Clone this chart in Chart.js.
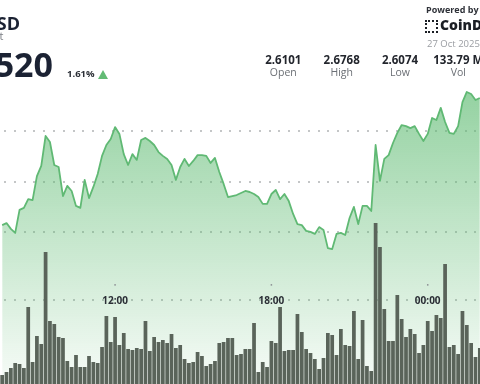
<!DOCTYPE html>
<html>
<head>
<meta charset="utf-8">
<script src="https://cdn.jsdelivr.net/npm/chart.js@4"></script>
<style>
  html, body { margin: 0; padding: 0; background: #fff; overflow: hidden; width: 480px; height: 384px; }
  #wrap { position: relative; width: 480px; height: 384px; overflow: hidden; font-family: "Open Sans", sans-serif; }
  #chart { position: absolute; left: 0; top: 0; }
  .t { position: absolute; line-height: 1; white-space: nowrap; }
  .stat { position: absolute; width: 70px; text-align: center; line-height: 1; white-space: nowrap; }
  .val { font-weight: 700; font-size: 11.5px; color: #23262d; }
  .lab { font-size: 10.5px; color: #6b6f75; }
</style>
</head>
<body>
<div id="wrap">
  <canvas id="chart" width="482" height="384"></canvas>

  <div class="t" style="left:-80px;width:100px;text-align:right;top:14px;font-size:18px;font-weight:700;color:#1b2233;">XRP-USD</div>
  <div class="t" style="left:-80px;width:83.5px;text-align:right;top:30px;font-size:11px;color:#7a7d83;">Spot</div>
  <div class="t" style="left:-80px;width:133px;text-align:right;top:47px;font-size:34px;font-weight:700;color:#1b2233;">2.6520</div>
  <div class="t" style="left:67px;top:68.5px;font-size:9.5px;font-weight:700;color:#2b2f36;">1.61%</div>
  <div style="position:absolute;left:98px;top:70px;width:0;height:0;border-left:5px solid transparent;border-right:5px solid transparent;border-bottom:9px solid #62bb74;"></div>

  <div class="t" style="left:426px;top:4.5px;font-size:9px;font-weight:700;color:#2e3138;">Powered by</div>
  <div style="position:absolute;left:425px;top:20px;width:9px;height:9px;border:2px dotted #1b1e24;"></div>
  <div class="t" style="left:440px;top:18.3px;font-size:14px;font-weight:800;color:#1b1e24;">CoinDesk</div>
  <div class="t" style="left:427px;top:39.3px;font-size:9.5px;color:#9a9da2;">27 Oct 2025</div>

  <div class="stat val" style="left:248.3px;top:53.8px;">2.6101</div>
  <div class="stat lab" style="left:248.3px;top:66.7px;">Open</div>
  <div class="stat val" style="left:306.7px;top:53.8px;">2.6768</div>
  <div class="stat lab" style="left:306.7px;top:66.7px;">High</div>
  <div class="stat val" style="left:365px;top:53.8px;">2.6074</div>
  <div class="stat lab" style="left:365px;top:66.7px;">Low</div>
  <div class="stat val" style="left:423.3px;top:53.8px;">133.79 M</div>
  <div class="stat lab" style="left:423.3px;top:66.7px;">Vol</div>
</div>

<script>
// 10-minute candles, first one at 07:40
const startMinutes = 7 * 60 + 40;
const barCount = 111;
const categories = [];
for (let i = 0; i < barCount; i++) {
    const m = (startMinutes + i * 10) % (24 * 60);
    categories.push(String(Math.floor(m / 60)).padStart(2, '0') + ':' + String(m % 60).padStart(2, '0'));
}

const price = [
    2.6229, 2.6237, 2.6214, 2.6198, 2.6289, 2.6297, 2.6332, 2.6328, 2.6423, 2.6463,
    2.6582, 2.6558, 2.6467, 2.6459, 2.6344, 2.6384, 2.6364, 2.6305, 2.6297, 2.6408,
    2.6336, 2.6380, 2.6431, 2.6503, 2.6546, 2.6570, 2.6617, 2.6590, 2.6510, 2.6467,
    2.6510, 2.6487, 2.6566, 2.6574, 2.6562, 2.6546, 2.6518, 2.6503, 2.6491, 2.6467,
    2.6408, 2.6459, 2.6491, 2.6463, 2.6483, 2.6506, 2.6506, 2.6503, 2.6475, 2.6495,
    2.6439, 2.6392, 2.6340, 2.6344, 2.6348, 2.6356, 2.6364, 2.6360, 2.6352, 2.6340,
    2.6313, 2.6313, 2.6352, 2.6368, 2.6332, 2.6352, 2.6324, 2.6273, 2.6233, 2.6229,
    2.6206, 2.6202, 2.6194, 2.6221, 2.6210, 2.6138, 2.6134, 2.6194, 2.6198, 2.6190,
    2.6257, 2.6301, 2.6233, 2.6305, 2.6305, 2.6285, 2.6546, 2.6404, 2.6491, 2.6506,
    2.6554, 2.6594, 2.6625, 2.6621, 2.6613, 2.6621, 2.6590, 2.6562, 2.6590, 2.6653,
    2.6645, 2.6693, 2.6637, 2.6594, 2.6590, 2.6621, 2.6716, 2.6756, 2.6748, 2.6724,
    2.6732
];

// volume per candle (relative units)
const volume = [
    9, 12, 16, 21, 20, 16, 77, 22, 48, 40,
    132, 63, 60, 47, 46, 23, 17, 29, 17, 17,
    28, 22, 21, 37, 68, 42, 67, 39, 51, 35,
    34, 36, 35, 63, 33, 47, 42, 44, 41, 50,
    36, 39, 25, 21, 22, 32, 28, 18, 20, 23,
    41, 42, 46, 46, 29, 30, 35, 35, 61, 12,
    22, 17, 43, 41, 77, 33, 34, 34, 70, 52,
    35, 31, 25, 15, 26, 51, 49, 29, 55, 39,
    38, 73, 25, 64, 18, 13, 161, 137, 75, 43,
    43, 89, 65, 47, 55, 50, 31, 39, 63, 53,
    69, 66, 120, 37, 39, 30, 73, 59, 41, 27,
    36
];

const gridPrices = [2.66, 2.64, 2.62];
const timeAxisPrice = 2.5932;
const timeTicks = ['12:00', '18:00', '00:00'];

// dotted horizontal guides, placed through the price scale
const dottedGridPlugin = {
    id: 'dottedGrid',
    beforeDatasetsDraw(chart) {
        const c = chart.ctx;
        const y = chart.scales.y;
        const area = chart.chartArea;
        c.save();
        c.fillStyle = '#c4c6c7';
        gridPrices.concat([timeAxisPrice]).forEach(v => {
            const py = Math.round(y.getPixelForValue(v)) - 1;
            for (let px = 4; px < area.right; px += 9.8) {
                c.fillRect(Math.round(px), py, 2, 2);
            }
        });
        c.restore();
    }
};

const timeLabelsPlugin = {
    id: 'timeLabels',
    afterDatasetsDraw(chart) {
        const c = chart.ctx;
        const x = chart.scales.x;
        const y = chart.scales.y;
        const yLine = y.getPixelForValue(timeAxisPrice);
        c.save();
        c.font = 'bold 10px "Open Sans"';
        c.textAlign = 'center';
        c.textBaseline = 'middle';
        timeTicks.forEach(t => {
            const px = x.getPixelForValue(categories.indexOf(t));
            c.fillStyle = '#8a8d92';
            c.fillRect(px - 0.75, yLine - 16, 1.5, 1.5);
            c.fillStyle = '#2b2f36';
            c.fillText(t, px, yLine + 1);
        });
        c.restore();
    }
};

new Chart(document.getElementById('chart'), {
    data: {
        labels: categories,
        datasets: [{
            type: 'line',
            data: price,
            yAxisID: 'y',
            order: 1,
            borderColor: '#60b974',
            borderWidth: 1.8,
            borderJoinStyle: 'round',
            pointRadius: 0,
            tension: 0,
            fill: 'start',
            backgroundColor: (ctx) => {
                const area = ctx.chart.chartArea;
                if (!area) return 'rgba(90,185,110,0.3)';
                const g = ctx.chart.ctx.createLinearGradient(0, 85, 0, area.bottom);
                g.addColorStop(0, 'rgba(90,185,110,0.66)');
                g.addColorStop(1, 'rgba(90,185,110,0.05)');
                return g;
            }
        }, {
            type: 'bar',
            data: volume,
            yAxisID: 'vol',
            order: 0,
            backgroundColor: '#5a645a',
            barPercentage: 0.86,
            categoryPercentage: 1
        }]
    },
    options: {
        responsive: false,
        animation: false,
        devicePixelRatio: 1,
        layout: { padding: 0 },
        plugins: { legend: { display: false }, tooltip: { enabled: false } },
        scales: {
            x: { display: false },
            y: { display: false, min: 2.560, max: 2.712 },
            vol: { display: false, min: 0, max: 384 }
        }
    },
    plugins: [dottedGridPlugin, timeLabelsPlugin]
});
</script>
</body>
</html>
